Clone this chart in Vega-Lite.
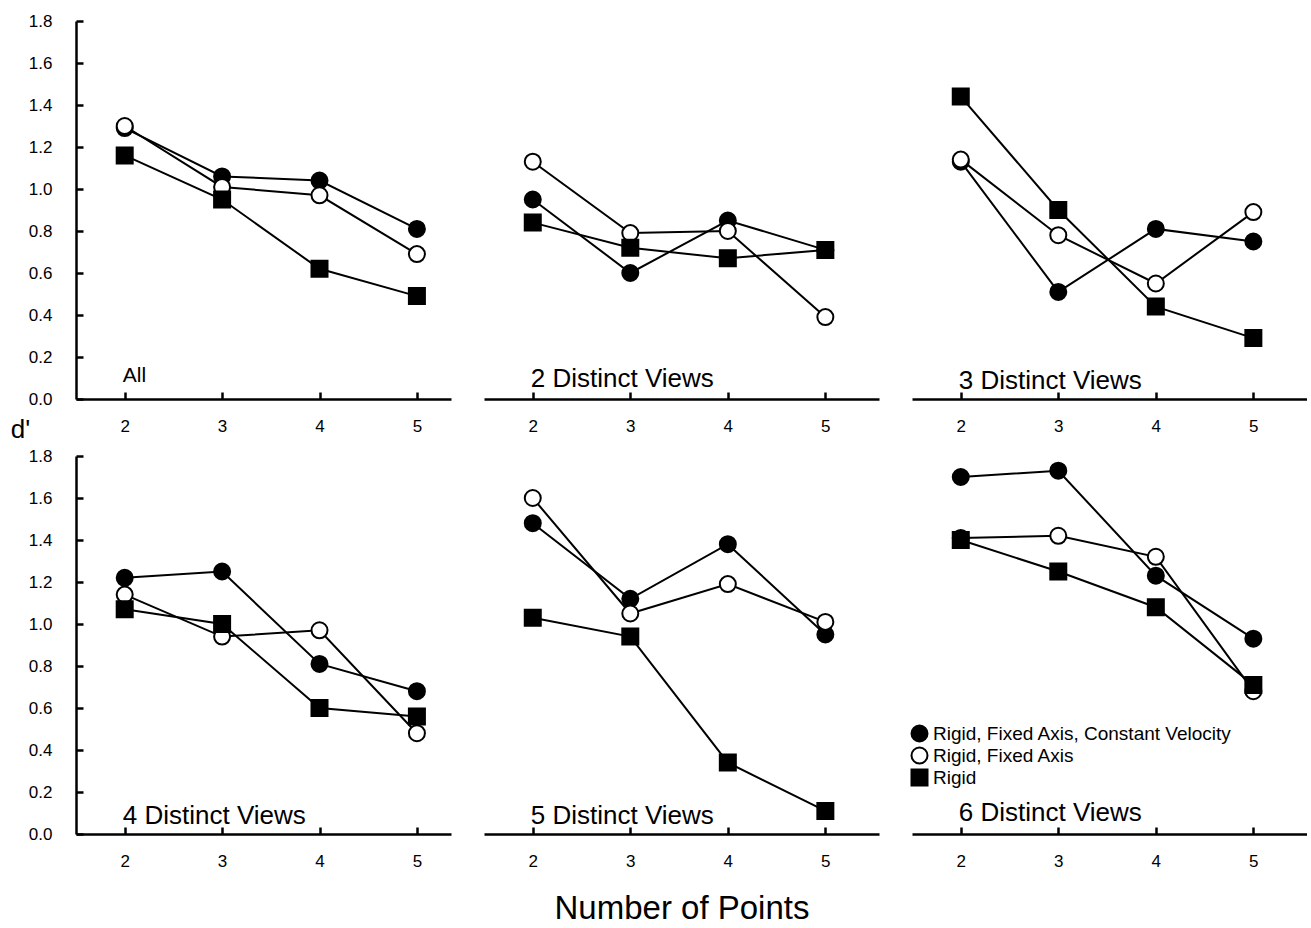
{
  "$schema": "https://vega.github.io/schema/vega-lite/v6.json",
  "background": "white",
  "padding": {"left": 10, "top": 12, "right": 0, "bottom": 0},
  "spacing": 5,
  "config": {
    "font": "Liberation Sans",
    "view": {"stroke": null},
    "axis": {
      "grid": false,
      "domainColor": "black",
      "domainWidth": 2.5,
      "tickColor": "black",
      "tickWidth": 2.5,
      "tickSize": -7,
      "labelColor": "black",
      "labelFont": "Liberation Sans",
      "labelFontSize": 17,
      "titleColor": "black",
      "titleFont": "Liberation Sans",
      "titleFontWeight": "normal"
    },
    "legend": {
      "orient": "none",
      "legendX": 834,
      "legendY": 703,
      "title": null,
      "labelFont": "Liberation Sans",
      "labelFontSize": 19,
      "labelColor": "black",
      "labelLimit": 400,
      "labelOffset": 4,
      "symbolSize": 256,
      "symbolStrokeColor": "black",
      "symbolStrokeWidth": 2,
      "rowPadding": -4
    }
  },
  "datasets": {
    "d": [
      {"panel": "All", "series": "Rigid, Fixed Axis, Constant Velocity", "points": 2, "dprime": 1.29},
      {"panel": "All", "series": "Rigid, Fixed Axis, Constant Velocity", "points": 3, "dprime": 1.06},
      {"panel": "All", "series": "Rigid, Fixed Axis, Constant Velocity", "points": 4, "dprime": 1.04},
      {"panel": "All", "series": "Rigid, Fixed Axis, Constant Velocity", "points": 5, "dprime": 0.81},
      {"panel": "All", "series": "Rigid, Fixed Axis", "points": 2, "dprime": 1.30},
      {"panel": "All", "series": "Rigid, Fixed Axis", "points": 3, "dprime": 1.01},
      {"panel": "All", "series": "Rigid, Fixed Axis", "points": 4, "dprime": 0.97},
      {"panel": "All", "series": "Rigid, Fixed Axis", "points": 5, "dprime": 0.69},
      {"panel": "All", "series": "Rigid", "points": 2, "dprime": 1.16},
      {"panel": "All", "series": "Rigid", "points": 3, "dprime": 0.95},
      {"panel": "All", "series": "Rigid", "points": 4, "dprime": 0.62},
      {"panel": "All", "series": "Rigid", "points": 5, "dprime": 0.49},
      {"panel": "2", "series": "Rigid, Fixed Axis, Constant Velocity", "points": 2, "dprime": 0.95},
      {"panel": "2", "series": "Rigid, Fixed Axis, Constant Velocity", "points": 3, "dprime": 0.60},
      {"panel": "2", "series": "Rigid, Fixed Axis, Constant Velocity", "points": 4, "dprime": 0.85},
      {"panel": "2", "series": "Rigid, Fixed Axis, Constant Velocity", "points": 5, "dprime": 0.71},
      {"panel": "2", "series": "Rigid, Fixed Axis", "points": 2, "dprime": 1.13},
      {"panel": "2", "series": "Rigid, Fixed Axis", "points": 3, "dprime": 0.79},
      {"panel": "2", "series": "Rigid, Fixed Axis", "points": 4, "dprime": 0.80},
      {"panel": "2", "series": "Rigid, Fixed Axis", "points": 5, "dprime": 0.39},
      {"panel": "2", "series": "Rigid", "points": 2, "dprime": 0.84},
      {"panel": "2", "series": "Rigid", "points": 3, "dprime": 0.72},
      {"panel": "2", "series": "Rigid", "points": 4, "dprime": 0.67},
      {"panel": "2", "series": "Rigid", "points": 5, "dprime": 0.71},
      {"panel": "3", "series": "Rigid, Fixed Axis, Constant Velocity", "points": 2, "dprime": 1.13},
      {"panel": "3", "series": "Rigid, Fixed Axis, Constant Velocity", "points": 3, "dprime": 0.51},
      {"panel": "3", "series": "Rigid, Fixed Axis, Constant Velocity", "points": 4, "dprime": 0.81},
      {"panel": "3", "series": "Rigid, Fixed Axis, Constant Velocity", "points": 5, "dprime": 0.75},
      {"panel": "3", "series": "Rigid, Fixed Axis", "points": 2, "dprime": 1.14},
      {"panel": "3", "series": "Rigid, Fixed Axis", "points": 3, "dprime": 0.78},
      {"panel": "3", "series": "Rigid, Fixed Axis", "points": 4, "dprime": 0.55},
      {"panel": "3", "series": "Rigid, Fixed Axis", "points": 5, "dprime": 0.89},
      {"panel": "3", "series": "Rigid", "points": 2, "dprime": 1.44},
      {"panel": "3", "series": "Rigid", "points": 3, "dprime": 0.90},
      {"panel": "3", "series": "Rigid", "points": 4, "dprime": 0.44},
      {"panel": "3", "series": "Rigid", "points": 5, "dprime": 0.29},
      {"panel": "4", "series": "Rigid, Fixed Axis, Constant Velocity", "points": 2, "dprime": 1.22},
      {"panel": "4", "series": "Rigid, Fixed Axis, Constant Velocity", "points": 3, "dprime": 1.25},
      {"panel": "4", "series": "Rigid, Fixed Axis, Constant Velocity", "points": 4, "dprime": 0.81},
      {"panel": "4", "series": "Rigid, Fixed Axis, Constant Velocity", "points": 5, "dprime": 0.68},
      {"panel": "4", "series": "Rigid, Fixed Axis", "points": 2, "dprime": 1.14},
      {"panel": "4", "series": "Rigid, Fixed Axis", "points": 3, "dprime": 0.94},
      {"panel": "4", "series": "Rigid, Fixed Axis", "points": 4, "dprime": 0.97},
      {"panel": "4", "series": "Rigid, Fixed Axis", "points": 5, "dprime": 0.48},
      {"panel": "4", "series": "Rigid", "points": 2, "dprime": 1.07},
      {"panel": "4", "series": "Rigid", "points": 3, "dprime": 1.00},
      {"panel": "4", "series": "Rigid", "points": 4, "dprime": 0.60},
      {"panel": "4", "series": "Rigid", "points": 5, "dprime": 0.56},
      {"panel": "5", "series": "Rigid, Fixed Axis, Constant Velocity", "points": 2, "dprime": 1.48},
      {"panel": "5", "series": "Rigid, Fixed Axis, Constant Velocity", "points": 3, "dprime": 1.12},
      {"panel": "5", "series": "Rigid, Fixed Axis, Constant Velocity", "points": 4, "dprime": 1.38},
      {"panel": "5", "series": "Rigid, Fixed Axis, Constant Velocity", "points": 5, "dprime": 0.95},
      {"panel": "5", "series": "Rigid, Fixed Axis", "points": 2, "dprime": 1.60},
      {"panel": "5", "series": "Rigid, Fixed Axis", "points": 3, "dprime": 1.05},
      {"panel": "5", "series": "Rigid, Fixed Axis", "points": 4, "dprime": 1.19},
      {"panel": "5", "series": "Rigid, Fixed Axis", "points": 5, "dprime": 1.01},
      {"panel": "5", "series": "Rigid", "points": 2, "dprime": 1.03},
      {"panel": "5", "series": "Rigid", "points": 3, "dprime": 0.94},
      {"panel": "5", "series": "Rigid", "points": 4, "dprime": 0.34},
      {"panel": "5", "series": "Rigid", "points": 5, "dprime": 0.11},
      {"panel": "6", "series": "Rigid, Fixed Axis, Constant Velocity", "points": 2, "dprime": 1.70},
      {"panel": "6", "series": "Rigid, Fixed Axis, Constant Velocity", "points": 3, "dprime": 1.73},
      {"panel": "6", "series": "Rigid, Fixed Axis, Constant Velocity", "points": 4, "dprime": 1.23},
      {"panel": "6", "series": "Rigid, Fixed Axis, Constant Velocity", "points": 5, "dprime": 0.93},
      {"panel": "6", "series": "Rigid, Fixed Axis", "points": 2, "dprime": 1.41},
      {"panel": "6", "series": "Rigid, Fixed Axis", "points": 3, "dprime": 1.42},
      {"panel": "6", "series": "Rigid, Fixed Axis", "points": 4, "dprime": 1.32},
      {"panel": "6", "series": "Rigid, Fixed Axis", "points": 5, "dprime": 0.68},
      {"panel": "6", "series": "Rigid", "points": 2, "dprime": 1.40},
      {"panel": "6", "series": "Rigid", "points": 3, "dprime": 1.25},
      {"panel": "6", "series": "Rigid", "points": 4, "dprime": 1.08},
      {"panel": "6", "series": "Rigid", "points": 5, "dprime": 0.71}
    ]
  },
  "vconcat": [
    {
      "spacing": 33,
      "hconcat": [
        {
          "width": 375, "height": 378,
          "layer": [
            {"data": {"name": "d"}, "transform": [{"filter": "datum.panel === 'All'"}], "mark": {"type": "line", "color": "black", "strokeWidth": 2},
             "encoding": {
               "x": {"field": "points", "type": "quantitative", "scale": {"domain": [1.5, 5.35], "nice": false, "zero": false}, "axis": {"values": [2, 3, 4, 5], "format": "d", "title": null, "labelPadding": 26}},
               "y": {"field": "dprime", "type": "quantitative", "scale": {"domain": [0, 1.8], "nice": false}, "axis": {"values": [0, 0.2, 0.4, 0.6, 0.8, 1.0, 1.2, 1.4, 1.6, 1.8], "format": ".1f", "labelPadding": 31, "title": "d'", "titleAngle": 0, "titleX": -56, "titleY": 408, "titleAlign": "center", "titleBaseline": "middle", "titleFontSize": 26}},
               "detail": {"field": "series"}}},
            {"data": {"name": "d"}, "transform": [{"filter": "datum.panel === 'All'"}], "mark": {"type": "point", "filled": true, "strokeWidth": 2, "size": 256, "opacity": 1},
             "encoding": {
               "x": {"field": "points", "type": "quantitative", "scale": {"domain": [1.5, 5.35], "nice": false, "zero": false}, "axis": {"values": [2, 3, 4, 5], "format": "d", "title": null, "labelPadding": 26}},
               "y": {"field": "dprime", "type": "quantitative", "scale": {"domain": [0, 1.8], "nice": false}, "axis": {"values": [0, 0.2, 0.4, 0.6, 0.8, 1.0, 1.2, 1.4, 1.6, 1.8], "format": ".1f", "labelPadding": 31, "title": "d'", "titleAngle": 0, "titleX": -56, "titleY": 408, "titleAlign": "center", "titleBaseline": "middle", "titleFontSize": 26}},
               "stroke": {"field": "series", "type": "nominal", "scale": {"domain": ["Rigid, Fixed Axis, Constant Velocity", "Rigid, Fixed Axis", "Rigid"], "range": ["black", "black", "black"]}},
               "shape": {"field": "series", "type": "nominal", "scale": {"domain": ["Rigid, Fixed Axis, Constant Velocity", "Rigid, Fixed Axis", "Rigid"], "range": ["circle", "circle", "square"]}},
               "fill": {"field": "series", "type": "nominal", "scale": {"domain": ["Rigid, Fixed Axis, Constant Velocity", "Rigid, Fixed Axis", "Rigid"], "range": ["black", "white", "black"]}}
             }},
            {"data": {"values": [{"label": "All"}]}, "mark": {"type": "text", "align": "left", "baseline": "alphabetic", "fontSize": 21, "color": "black"},
             "encoding": {"x": {"datum": 1.98, "type": "quantitative"}, "y": {"datum": 0.08, "type": "quantitative"}, "text": {"field": "label"}}}
          ]
        },
        {
          "width": 395, "height": 378,
          "layer": [
            {"data": {"name": "d"}, "transform": [{"filter": "datum.panel === '2'"}], "mark": {"type": "line", "color": "black", "strokeWidth": 2},
             "encoding": {
               "x": {"field": "points", "type": "quantitative", "scale": {"domain": [1.5, 5.55], "nice": false, "zero": false}, "axis": {"values": [2, 3, 4, 5], "format": "d", "title": null, "labelPadding": 26}},
               "y": {"field": "dprime", "type": "quantitative", "scale": {"domain": [0, 1.8], "nice": false}, "axis": null},
               "detail": {"field": "series"}}},
            {"data": {"name": "d"}, "transform": [{"filter": "datum.panel === '2'"}], "mark": {"type": "point", "filled": true, "strokeWidth": 2, "size": 256, "opacity": 1},
             "encoding": {
               "x": {"field": "points", "type": "quantitative", "scale": {"domain": [1.5, 5.55], "nice": false, "zero": false}, "axis": {"values": [2, 3, 4, 5], "format": "d", "title": null, "labelPadding": 26}},
               "y": {"field": "dprime", "type": "quantitative", "scale": {"domain": [0, 1.8], "nice": false}, "axis": null},
               "stroke": {"field": "series", "type": "nominal", "scale": {"domain": ["Rigid, Fixed Axis, Constant Velocity", "Rigid, Fixed Axis", "Rigid"], "range": ["black", "black", "black"]}},
               "shape": {"field": "series", "type": "nominal", "scale": {"domain": ["Rigid, Fixed Axis, Constant Velocity", "Rigid, Fixed Axis", "Rigid"], "range": ["circle", "circle", "square"]}},
               "fill": {"field": "series", "type": "nominal", "scale": {"domain": ["Rigid, Fixed Axis, Constant Velocity", "Rigid, Fixed Axis", "Rigid"], "range": ["black", "white", "black"]}}
             }},
            {"data": {"values": [{"label": "2 Distinct Views"}]}, "mark": {"type": "text", "align": "left", "baseline": "alphabetic", "fontSize": 26, "color": "black"},
             "encoding": {"x": {"datum": 1.98, "type": "quantitative"}, "y": {"datum": 0.055, "type": "quantitative"}, "text": {"field": "label"}}}
          ]
        },
        {
          "width": 395, "height": 378,
          "layer": [
            {"data": {"name": "d"}, "transform": [{"filter": "datum.panel === '3'"}], "mark": {"type": "line", "color": "black", "strokeWidth": 2},
             "encoding": {
               "x": {"field": "points", "type": "quantitative", "scale": {"domain": [1.5, 5.55], "nice": false, "zero": false}, "axis": {"values": [2, 3, 4, 5], "format": "d", "title": null, "labelPadding": 26}},
               "y": {"field": "dprime", "type": "quantitative", "scale": {"domain": [0, 1.8], "nice": false}, "axis": null},
               "detail": {"field": "series"}}},
            {"data": {"name": "d"}, "transform": [{"filter": "datum.panel === '3'"}], "mark": {"type": "point", "filled": true, "strokeWidth": 2, "size": 256, "opacity": 1},
             "encoding": {
               "x": {"field": "points", "type": "quantitative", "scale": {"domain": [1.5, 5.55], "nice": false, "zero": false}, "axis": {"values": [2, 3, 4, 5], "format": "d", "title": null, "labelPadding": 26}},
               "y": {"field": "dprime", "type": "quantitative", "scale": {"domain": [0, 1.8], "nice": false}, "axis": null},
               "stroke": {"field": "series", "type": "nominal", "scale": {"domain": ["Rigid, Fixed Axis, Constant Velocity", "Rigid, Fixed Axis", "Rigid"], "range": ["black", "black", "black"]}},
               "shape": {"field": "series", "type": "nominal", "scale": {"domain": ["Rigid, Fixed Axis, Constant Velocity", "Rigid, Fixed Axis", "Rigid"], "range": ["circle", "circle", "square"]}},
               "fill": {"field": "series", "type": "nominal", "scale": {"domain": ["Rigid, Fixed Axis, Constant Velocity", "Rigid, Fixed Axis", "Rigid"], "range": ["black", "white", "black"]}}
             }},
            {"data": {"values": [{"label": "3 Distinct Views"}]}, "mark": {"type": "text", "align": "left", "baseline": "alphabetic", "fontSize": 26, "color": "black"},
             "encoding": {"x": {"datum": 1.98, "type": "quantitative"}, "y": {"datum": 0.05, "type": "quantitative"}, "text": {"field": "label"}}}
          ]
        }
      ]
    },
    {
      "spacing": 33,
      "hconcat": [
        {
          "width": 375, "height": 378,
          "layer": [
            {"data": {"name": "d"}, "transform": [{"filter": "datum.panel === '4'"}], "mark": {"type": "line", "color": "black", "strokeWidth": 2},
             "encoding": {
               "x": {"field": "points", "type": "quantitative", "scale": {"domain": [1.5, 5.35], "nice": false, "zero": false}, "axis": {"values": [2, 3, 4, 5], "format": "d", "title": null, "labelPadding": 26}},
               "y": {"field": "dprime", "type": "quantitative", "scale": {"domain": [0, 1.8], "nice": false}, "axis": {"values": [0, 0.2, 0.4, 0.6, 0.8, 1.0, 1.2, 1.4, 1.6, 1.8], "format": ".1f", "labelPadding": 31, "title": null}},
               "detail": {"field": "series"}}},
            {"data": {"name": "d"}, "transform": [{"filter": "datum.panel === '4'"}], "mark": {"type": "point", "filled": true, "strokeWidth": 2, "size": 256, "opacity": 1},
             "encoding": {
               "x": {"field": "points", "type": "quantitative", "scale": {"domain": [1.5, 5.35], "nice": false, "zero": false}, "axis": {"values": [2, 3, 4, 5], "format": "d", "title": null, "labelPadding": 26}},
               "y": {"field": "dprime", "type": "quantitative", "scale": {"domain": [0, 1.8], "nice": false}, "axis": {"values": [0, 0.2, 0.4, 0.6, 0.8, 1.0, 1.2, 1.4, 1.6, 1.8], "format": ".1f", "labelPadding": 31, "title": null}},
               "stroke": {"field": "series", "type": "nominal", "scale": {"domain": ["Rigid, Fixed Axis, Constant Velocity", "Rigid, Fixed Axis", "Rigid"], "range": ["black", "black", "black"]}},
               "shape": {"field": "series", "type": "nominal", "scale": {"domain": ["Rigid, Fixed Axis, Constant Velocity", "Rigid, Fixed Axis", "Rigid"], "range": ["circle", "circle", "square"]}},
               "fill": {"field": "series", "type": "nominal", "scale": {"domain": ["Rigid, Fixed Axis, Constant Velocity", "Rigid, Fixed Axis", "Rigid"], "range": ["black", "white", "black"]}}
             }},
            {"data": {"values": [{"label": "4 Distinct Views"}]}, "mark": {"type": "text", "align": "left", "baseline": "alphabetic", "fontSize": 26, "color": "black"},
             "encoding": {"x": {"datum": 1.98, "type": "quantitative"}, "y": {"datum": 0.05, "type": "quantitative"}, "text": {"field": "label"}}}
          ]
        },
        {
          "width": 395, "height": 378,
          "layer": [
            {"data": {"name": "d"}, "transform": [{"filter": "datum.panel === '5'"}], "mark": {"type": "line", "color": "black", "strokeWidth": 2},
             "encoding": {
               "x": {"field": "points", "type": "quantitative", "scale": {"domain": [1.5, 5.55], "nice": false, "zero": false}, "axis": {"values": [2, 3, 4, 5], "format": "d", "title": "Number of Points", "labelPadding": 26, "titleFontSize": 33, "titlePadding": 23}},
               "y": {"field": "dprime", "type": "quantitative", "scale": {"domain": [0, 1.8], "nice": false}, "axis": null},
               "detail": {"field": "series"}}},
            {"data": {"name": "d"}, "transform": [{"filter": "datum.panel === '5'"}], "mark": {"type": "point", "filled": true, "strokeWidth": 2, "size": 256, "opacity": 1},
             "encoding": {
               "x": {"field": "points", "type": "quantitative", "scale": {"domain": [1.5, 5.55], "nice": false, "zero": false}, "axis": {"values": [2, 3, 4, 5], "format": "d", "title": "Number of Points", "labelPadding": 26, "titleFontSize": 33, "titlePadding": 23}},
               "y": {"field": "dprime", "type": "quantitative", "scale": {"domain": [0, 1.8], "nice": false}, "axis": null},
               "stroke": {"field": "series", "type": "nominal", "scale": {"domain": ["Rigid, Fixed Axis, Constant Velocity", "Rigid, Fixed Axis", "Rigid"], "range": ["black", "black", "black"]}},
               "shape": {"field": "series", "type": "nominal", "scale": {"domain": ["Rigid, Fixed Axis, Constant Velocity", "Rigid, Fixed Axis", "Rigid"], "range": ["circle", "circle", "square"]}},
               "fill": {"field": "series", "type": "nominal", "scale": {"domain": ["Rigid, Fixed Axis, Constant Velocity", "Rigid, Fixed Axis", "Rigid"], "range": ["black", "white", "black"]}}
             }},
            {"data": {"values": [{"label": "5 Distinct Views"}]}, "mark": {"type": "text", "align": "left", "baseline": "alphabetic", "fontSize": 26, "color": "black"},
             "encoding": {"x": {"datum": 1.98, "type": "quantitative"}, "y": {"datum": 0.05, "type": "quantitative"}, "text": {"field": "label"}}}
          ]
        },
        {
          "width": 395, "height": 378,
          "layer": [
            {"data": {"name": "d"}, "transform": [{"filter": "datum.panel === '6'"}], "mark": {"type": "line", "color": "black", "strokeWidth": 2},
             "encoding": {
               "x": {"field": "points", "type": "quantitative", "scale": {"domain": [1.5, 5.55], "nice": false, "zero": false}, "axis": {"values": [2, 3, 4, 5], "format": "d", "title": null, "labelPadding": 26}},
               "y": {"field": "dprime", "type": "quantitative", "scale": {"domain": [0, 1.8], "nice": false}, "axis": null},
               "detail": {"field": "series"}}},
            {"data": {"name": "d"}, "transform": [{"filter": "datum.panel === '6'"}], "mark": {"type": "point", "filled": true, "strokeWidth": 2, "size": 256, "opacity": 1},
             "encoding": {
               "x": {"field": "points", "type": "quantitative", "scale": {"domain": [1.5, 5.55], "nice": false, "zero": false}, "axis": {"values": [2, 3, 4, 5], "format": "d", "title": null, "labelPadding": 26}},
               "y": {"field": "dprime", "type": "quantitative", "scale": {"domain": [0, 1.8], "nice": false}, "axis": null},
               "stroke": {"field": "series", "type": "nominal", "scale": {"domain": ["Rigid, Fixed Axis, Constant Velocity", "Rigid, Fixed Axis", "Rigid"], "range": ["black", "black", "black"]}},
               "shape": {"field": "series", "type": "nominal", "scale": {"domain": ["Rigid, Fixed Axis, Constant Velocity", "Rigid, Fixed Axis", "Rigid"], "range": ["circle", "circle", "square"]}},
               "fill": {"field": "series", "type": "nominal", "scale": {"domain": ["Rigid, Fixed Axis, Constant Velocity", "Rigid, Fixed Axis", "Rigid"], "range": ["black", "white", "black"]}}
             }},
            {"data": {"values": [{"label": "6 Distinct Views"}]}, "mark": {"type": "text", "align": "left", "baseline": "alphabetic", "fontSize": 26, "color": "black"},
             "encoding": {"x": {"datum": 1.98, "type": "quantitative"}, "y": {"datum": 0.06, "type": "quantitative"}, "text": {"field": "label"}}}
          ]
        }
      ]
    }
  ]
}
